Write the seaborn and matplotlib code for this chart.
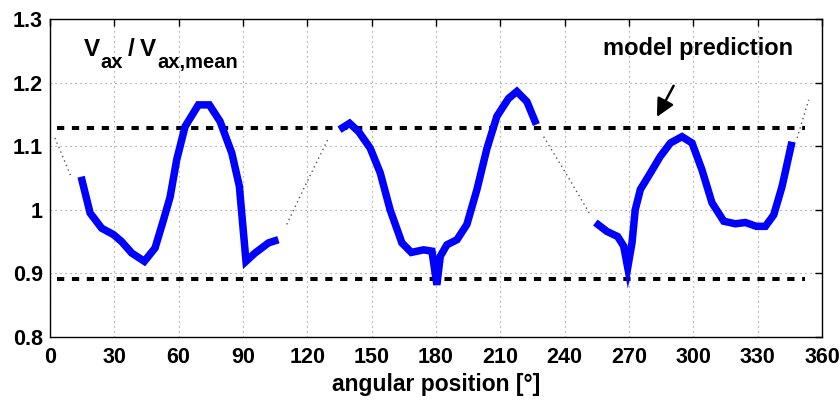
import numpy as np
import pandas as pd
import matplotlib
matplotlib.use("Agg")
import matplotlib.pyplot as plt
import seaborn as sns

# ---- data ----
seg1_angle = [14.5, 18.7, 24.1, 29.6, 33.4, 38.1, 44.0, 49.0, 53.0, 56.0, 59.1, 63.0,
              69.2, 74.3, 79.3, 84.8, 88.3, 91.4, 95.6, 101.9, 106.5]
seg1_value = [1.052, 0.995, 0.971, 0.961, 0.950, 0.932, 0.919, 0.940, 0.985, 1.020, 1.079, 1.131,
              1.165, 1.165, 1.139, 1.089, 1.037, 0.919, 0.932, 0.948, 0.953]

seg2_angle = [135.0, 139.7, 143.9, 149.3, 154.0, 158.6, 164.1, 168.5, 174.2, 178.1, 180.4,
              182.0, 185.1, 189.8, 194.4, 199.1, 203.8, 208.4, 213.8, 217.7, 222.4, 226.8]
seg2_value = [1.126, 1.136, 1.123, 1.097, 1.058, 1.000, 0.948, 0.933, 0.937, 0.935, 0.882,
              0.927, 0.945, 0.953, 0.977, 1.032, 1.097, 1.147, 1.175, 1.186, 1.170, 1.134]

seg3_angle = [254.3, 259.7, 264.7, 267.5, 269.4, 271.4, 272.9, 275.3, 280.0, 284.6, 289.3,
              294.7, 299.4, 304.0, 308.7, 314.2, 319.6, 324.3, 329.4, 333.6, 337.5, 341.4, 346.0]
seg3_value = [0.980, 0.966, 0.958, 0.943, 0.909, 0.948, 1.000, 1.032, 1.058, 1.084, 1.105,
              1.115, 1.105, 1.063, 1.011, 0.982, 0.978, 0.980, 0.974, 0.974, 0.992, 1.037, 1.107]

# thin dotted connections across the gaps
gap_angle = [[2.3, 10.1], [110.4, 120.0, 129.9], [230.2, 241.0, 252.0], [348.4, 353.8]]
gap_value = [[1.113, 1.050], [0.977, 1.045, 1.113], [1.115, 1.055, 0.992], [1.113, 1.173]]

# model prediction bounds
model_upper = 1.128
model_lower = 0.891
model_span = [3.3, 352.0]

x_ticks = [0, 30, 60, 90, 120, 150, 180, 210, 240, 270, 300, 330, 360]
y_ticks = [0.8, 0.9, 1.0, 1.1, 1.2, 1.3]
y_tick_labels = ["0.8", "0.9", "1", "1.1", "1.2", "1.3"]

# ---- build tables ----
meas = pd.concat([
    pd.DataFrame({"angle": a, "value": v, "seg": i})
    for i, (a, v) in enumerate([(seg1_angle, seg1_value), (seg2_angle, seg2_value),
                                (seg3_angle, seg3_value)])
], ignore_index=True)
gaps = pd.concat([
    pd.DataFrame({"angle": a, "value": v, "seg": i})
    for i, (a, v) in enumerate(zip(gap_angle, gap_value))
], ignore_index=True)
model = pd.DataFrame({
    "angle": model_span * 2,
    "value": [model_upper] * 2 + [model_lower] * 2,
    "seg": [0, 0, 1, 1],
})

sns.set_theme(style="white")
plt.rcParams["font.family"] = ["Liberation Sans", "DejaVu Sans"]
plt.rcParams["font.weight"] = "bold"
plt.rcParams["text.color"] = "black"
plt.rcParams["axes.labelcolor"] = "black"

W, H = 840, 403
fig = plt.figure(figsize=(W / 100, H / 100), dpi=100)
ax = fig.add_axes([50 / W, 1 - 337 / H, 772 / W, 318 / H])

sns.lineplot(data=gaps, x="angle", y="value", units="seg", estimator=None, sort=False,
             color="#555555", lw=1.0, ax=ax, linestyle=(0, (1, 2.5)))
sns.lineplot(data=model, x="angle", y="value", units="seg", estimator=None, sort=False,
             color="black", lw=2.9, ax=ax, linestyle=(0, (1.8, 1.9)))
sns.lineplot(data=meas, x="angle", y="value", units="seg", estimator=None, sort=False,
             color="#0000ff", lw=5.4, ax=ax, solid_joinstyle="miter", solid_capstyle="butt")

ax.set_xlim(0, 360)
ax.set_ylim(0.8, 1.3)
ax.set_xticks(x_ticks)
ax.set_yticks(y_ticks)
ax.set_yticklabels(y_tick_labels)
ax.tick_params(direction="in", length=5, width=1, top=True, right=True,
               labelsize=15.5, colors="black", labelcolor="black")
ax.tick_params(axis="x", pad=7)
ax.tick_params(axis="y", pad=5)
for lab in ax.get_xticklabels() + ax.get_yticklabels():
    lab.set_fontweight("bold")
ax.grid(True, color="#888888", lw=0.8, linestyle=(0, (1, 3.5)))
for s in ax.spines.values():
    s.set_color("black")
    s.set_linewidth(1.0)

ax.set_xlabel("angular position [°]", fontsize=16.5, fontweight="bold", color="black")
ax.xaxis.set_label_coords(0.5, -(373 - 337) / 318)
ax.set_ylabel("")

# V_ax / V_ax,mean label (pieces placed at the reference's pixel positions)
def ftext(px, py, s, size):
    fig.text(px / W, 1 - py / H, s, fontsize=size, fontweight="bold",
             ha="left", va="baseline", color="black")

ftext(84, 56, "V", 17.5)
ftext(100, 68, "ax", 14.5)
ftext(128, 56, "/", 17.5)
ftext(140, 56, "V", 17.5)
ftext(157, 68, "ax,mean", 14.5)

ax.text(302, 1.254, "model prediction", fontsize=17, fontweight="bold",
        ha="center", va="center", color="black")
ax.annotate("", xy=(283.0, 1.146), xytext=(290.8, 1.195),
            arrowprops=dict(arrowstyle="-|>,head_length=0.6,head_width=0.3", color="black",
                            lw=1.8, mutation_scale=18, shrinkA=0, shrinkB=0))

fig.savefig("out.png", dpi=100)
